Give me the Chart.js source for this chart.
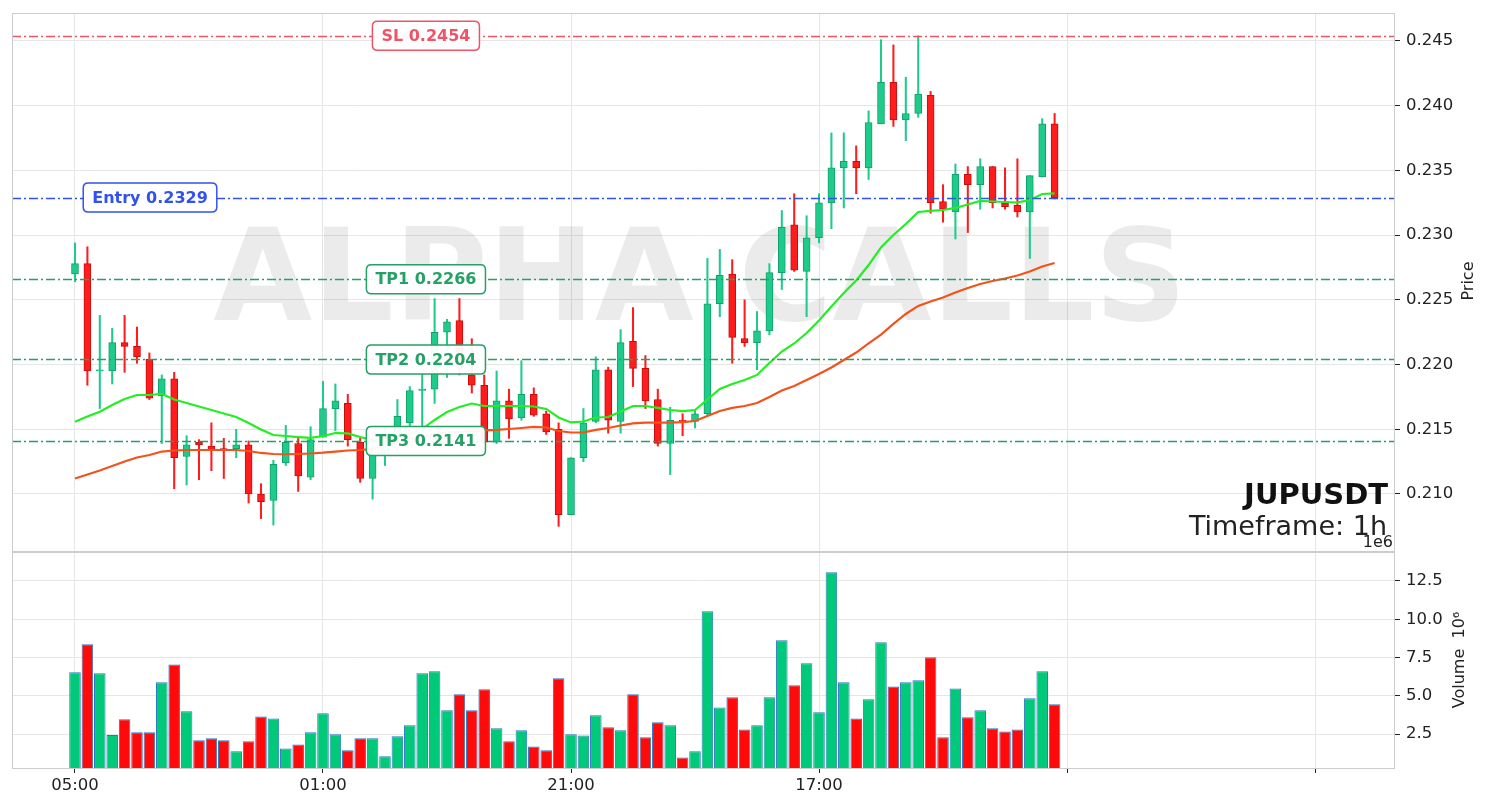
<!DOCTYPE html>
<html>
<head>
<meta charset="utf-8">
<script src="https://cdn.jsdelivr.net/npm/chart.js@4.4.0/dist/chart.umd.min.js"></script>
<style>
  html, body { margin: 0; padding: 0; background: #fff; }
  #wrap { position: relative; width: 1490px; height: 808px; }
  canvas { position: absolute; left: 0; }
  #price { top: 0; }
  #vol { top: 552px; }
</style>
</head>
<body>
<div id="wrap">
  <canvas id="price" width="1490" height="552"></canvas>
  <canvas id="vol" width="1490" height="256"></canvas>
</div>
<script>
// JUPUSDT 1h candles
var opens = [
  0.2270, 0.2278, 0.2195, 0.2195, 0.2217, 0.2214, 0.2204, 0.2176, 0.2189, 0.2129,
  0.2140, 0.2137, 0.2135, 0.2135, 0.2138, 0.2100, 0.2095, 0.2124, 0.2139, 0.2113,
  0.2144, 0.2166, 0.2170, 0.2140, 0.2112, 0.2130, 0.2146, 0.2155, 0.2180, 0.2181,
  0.2225, 0.2234, 0.2192, 0.2184, 0.2140, 0.2172, 0.2159, 0.2177, 0.2162, 0.2150,
  0.2084, 0.2128, 0.2156, 0.2196, 0.2156, 0.2218, 0.2197, 0.2173, 0.2139, 0.2157,
  0.2156, 0.2162, 0.2247, 0.2270, 0.2220, 0.2217, 0.2226, 0.2271, 0.2308, 0.2272,
  0.2298, 0.2325, 0.2352, 0.2357, 0.2352, 0.2386, 0.2418, 0.2389, 0.2394, 0.2408,
  0.2326, 0.2318, 0.2347, 0.2339, 0.2353, 0.2325, 0.2323, 0.2318, 0.2345, 0.2386
];
var highs = [
  0.2294, 0.2291, 0.2238, 0.2228, 0.2238, 0.2229, 0.2209, 0.2192, 0.2194, 0.2145,
  0.2142, 0.2155, 0.2143, 0.2150, 0.2141, 0.2108, 0.2126, 0.2153, 0.2144, 0.2152,
  0.2187, 0.2185, 0.2177, 0.2143, 0.2140, 0.2152, 0.2173, 0.2183, 0.2193, 0.2251,
  0.2235, 0.2251, 0.2220, 0.2192, 0.2195, 0.2181, 0.2203, 0.2182, 0.2164, 0.2155,
  0.2128, 0.2166, 0.2206, 0.2198, 0.2227, 0.2244, 0.2207, 0.2181, 0.2167, 0.2162,
  0.2165, 0.2282, 0.2289, 0.2281, 0.2250, 0.2241, 0.2278, 0.2319, 0.2332, 0.2315,
  0.2332, 0.2379, 0.2379, 0.2369, 0.2396, 0.2451, 0.2447, 0.2422, 0.2454, 0.2411,
  0.2339, 0.2355, 0.2353, 0.2359, 0.2353, 0.2352, 0.2359, 0.2346, 0.2390, 0.2394
];
var lows = [
  0.2264, 0.2184, 0.2166, 0.2185, 0.2194, 0.2201, 0.2173, 0.2139, 0.2104, 0.2107,
  0.2111, 0.2118, 0.2112, 0.2128, 0.2093, 0.2081, 0.2076, 0.2122, 0.2102, 0.2111,
  0.2144, 0.2149, 0.2137, 0.2109, 0.2096, 0.2122, 0.2140, 0.2152, 0.2148, 0.2170,
  0.2190, 0.2192, 0.2178, 0.2139, 0.2139, 0.2143, 0.2157, 0.2160, 0.2146, 0.2075,
  0.2084, 0.2125, 0.2155, 0.2147, 0.2147, 0.2183, 0.2166, 0.2137, 0.2115, 0.2145,
  0.2151, 0.2161, 0.2237, 0.2201, 0.2214, 0.2196, 0.2223, 0.2258, 0.2272, 0.2237,
  0.2294, 0.2305, 0.2321, 0.2332, 0.2343, 0.2386, 0.2384, 0.2373, 0.2391, 0.2317,
  0.2310, 0.2297, 0.2302, 0.2320, 0.2321, 0.2320, 0.2314, 0.2282, 0.2345, 0.2328
];
var closes = [
  0.2278, 0.2195, 0.2196, 0.2217, 0.2214, 0.2206, 0.2174, 0.2189, 0.2128, 0.2138,
  0.2138, 0.2134, 0.2134, 0.2138, 0.2100, 0.2094, 0.2123, 0.2140, 0.2114, 0.2142,
  0.2166, 0.2172, 0.2142, 0.2112, 0.2130, 0.2146, 0.2160, 0.2180, 0.2181, 0.2225,
  0.2233, 0.2197, 0.2184, 0.2140, 0.2172, 0.2158, 0.2177, 0.2161, 0.2148, 0.2084,
  0.2128, 0.2155, 0.2196, 0.2157, 0.2217, 0.2197, 0.2172, 0.2139, 0.2157, 0.2156,
  0.2162, 0.2247, 0.2269, 0.2221, 0.2217, 0.2226, 0.2271, 0.2306, 0.2273, 0.2298,
  0.2325, 0.2352, 0.2357, 0.2352, 0.2387, 0.2418, 0.2389, 0.2394, 0.2409, 0.2325,
  0.2320, 0.2347, 0.2339, 0.2353, 0.2325, 0.2322, 0.2318, 0.2346, 0.2386, 0.2329
];
// volume, in millions
var volumes = [
  6.53, 8.36, 6.47, 2.43, 3.46, 2.61, 2.61, 5.88, 7.05, 3.98,
  2.09, 2.22, 2.09, 1.37, 2.02, 3.65, 3.52, 1.56, 1.82, 2.61,
  3.85, 2.48, 1.43, 2.22, 2.22, 1.04, 2.35, 3.07, 6.47, 6.60,
  4.05, 5.09, 4.05, 5.42, 2.87, 2.02, 2.74, 1.69, 1.43, 6.14,
  2.48, 2.41, 3.72, 2.94, 2.74, 5.09, 2.28, 3.26, 3.07, 0.97,
  1.37, 10.52, 4.24, 4.90, 2.80, 3.07, 4.90, 8.62, 5.68, 7.12,
  3.92, 13.07, 5.88, 3.52, 4.77, 8.49, 5.61, 5.88, 6.01, 7.51,
  2.28, 5.48, 3.59, 4.05, 2.87, 2.67, 2.80, 4.83, 6.60, 4.44
];
// the two moving averages as drawn
var emaFast = [
  0.21559, 0.21599, 0.21636, 0.21688, 0.21734, 0.21765, 0.21765, 0.21773, 0.21730, 0.21703,
  0.21676, 0.21649, 0.21622, 0.21595, 0.21549, 0.21498, 0.21456, 0.21448, 0.21440, 0.21433,
  0.21448, 0.21471, 0.21468, 0.21440, 0.21417, 0.21417, 0.21433, 0.21464, 0.21502, 0.21572,
  0.21634, 0.21672, 0.21699, 0.21680, 0.21680, 0.21680, 0.21680, 0.21676, 0.21657, 0.21591,
  0.21553, 0.21560, 0.21591, 0.21595, 0.21638, 0.21680, 0.21680, 0.21665, 0.21649, 0.21641,
  0.21649, 0.21730, 0.21811, 0.21850, 0.21881, 0.21920, 0.22012, 0.22101, 0.22163, 0.22244,
  0.22341, 0.22449, 0.22553, 0.22650, 0.22769, 0.22905, 0.23001, 0.23086, 0.23179, 0.23187,
  0.23194, 0.23210, 0.23237, 0.23264, 0.23260, 0.23256, 0.23252, 0.23272, 0.23318, 0.23322
];
var emaSlow = [
  0.21120, 0.21151, 0.21182, 0.21216, 0.21251, 0.21282, 0.21301, 0.21328, 0.21336, 0.21340,
  0.21340, 0.21340, 0.21340, 0.21340, 0.21332, 0.21317, 0.21309, 0.21307, 0.21309, 0.21313,
  0.21319, 0.21328, 0.21336, 0.21340, 0.21348, 0.21375, 0.21402, 0.21425, 0.21448, 0.21464,
  0.21475, 0.21483, 0.21487, 0.21491, 0.21495, 0.21502, 0.21510, 0.21518, 0.21514, 0.21487,
  0.21475, 0.21475, 0.21495, 0.21510, 0.21529, 0.21545, 0.21551, 0.21551, 0.21552, 0.21556,
  0.21564, 0.21603, 0.21641, 0.21665, 0.21680, 0.21703, 0.21750, 0.21800, 0.21835, 0.21881,
  0.21927, 0.21978, 0.22035, 0.22093, 0.22163, 0.22232, 0.22314, 0.22391, 0.22453, 0.22487,
  0.22518, 0.22557, 0.22592, 0.22623, 0.22646, 0.22665, 0.22688, 0.22719, 0.22758, 0.22785
];
var levelNames = ['SL', 'Entry', 'TP1', 'TP2', 'TP3'];
var levelValues = [0.2454, 0.2329, 0.2266, 0.2204, 0.2141];
var xTickLabels = ['05:00', '01:00', '21:00', '17:00'];

Chart.defaults.font.family = '"DejaVu Sans", sans-serif';
Chart.defaults.color = '#222';

var FONT = '"DejaVu Sans", sans-serif';
var GRID = '#e6e6e6';
var FRAME = '#cccccc';
var UP = '#1ecb8b', UP_EDGE = '#12a06b';
var DOWN = '#ff1c1c', DOWN_EDGE = '#c40f0f';
var X_MIN = -5.08, X_MAX = 106.45;

var idx = opens.map(function (o, i) { return i; });
var isUp = idx.map(function (i) { return closes[i] >= opens[i]; });

function xAxis(withLabels) {
  return {
    type: 'linear', min: X_MIN, max: X_MAX, offset: false,
    grid: { offset: false, color: GRID, drawTicks: withLabels, tickLength: 5, tickColor: '#222' },
    border: { display: false },
    ticks: {
      display: withLabels, stepSize: 20, includeBounds: false, autoSkip: false,
      maxRotation: 0, padding: 3, font: { size: 16.5 },
      callback: function (v) { return xTickLabels[v / 20] || ''; }
    },
    afterFit: function (s) {
      s.height = withLabels ? 40 : 0;
      s.paddingLeft = 0; s.paddingRight = 0;
    }
  };
}

function yAxis(lo, hi, step, digits) {
  return {
    position: 'right', min: lo, max: hi,
    grid: { color: GRID, tickLength: 5, tickColor: '#222' },
    border: { display: false },
    ticks: {
      stepSize: step, includeBounds: false, padding: 6, font: { size: 16.5 },
      callback: function (v) { return v.toFixed(digits); }
    },
    afterFit: function (s) {
      s.width = 95;
      s.paddingTop = 0; s.paddingBottom = 0;
    }
  };
}

function frame(chart) {
  var a = chart.chartArea, ctx = chart.ctx;
  ctx.save();
  ctx.strokeStyle = FRAME;
  ctx.lineWidth = 1;
  ctx.strokeRect(a.left + 0.5, a.top + 0.5, a.right - a.left - 1, a.bottom - a.top);
  ctx.restore();
}

function rotatedText(ctx, txt, x, y, font) {
  ctx.save();
  ctx.translate(x, y);
  ctx.rotate(-Math.PI / 2);
  ctx.font = font;
  ctx.fillStyle = '#222';
  ctx.textAlign = 'center';
  ctx.textBaseline = 'middle';
  ctx.fillText(txt, 0, 0);
  ctx.restore();
}

var levelStyle = {
  SL: { color: '#ef5466', at: 28.3 },
  Entry: { color: '#3252ee', at: 6.05 },
  TP1: { color: '#27a067', at: 28.3 },
  TP2: { color: '#27a067', at: 28.3 },
  TP3: { color: '#27a067', at: 28.3 }
};

var priceDeco = {
  id: 'priceDeco',
  beforeDatasetsDraw: function (chart) {
    var ctx = chart.ctx;
    ctx.save();
    ctx.font = 'bold 128px ' + FONT;
    ctx.fillStyle = 'rgba(0,0,0,0.08)';
    ctx.textAlign = 'center';
    ctx.textBaseline = 'alphabetic';
    ctx.fillText('ALPHA CALLS', 700, 320);
    ctx.restore();
  },
  afterDatasetsDraw: function (chart) {
    var ctx = chart.ctx, a = chart.chartArea;
    var xs = chart.scales.x, ys = chart.scales.y;
    ctx.save();
    levelNames.forEach(function (name, k) {
      var st = levelStyle[name];
      var y = Math.round(ys.getPixelForValue(levelValues[k])) + 0.5;
      ctx.strokeStyle = st.color;
      ctx.lineWidth = 1.5;
      ctx.setLineDash([9, 3, 2, 3]);
      ctx.beginPath();
      ctx.moveTo(a.left, y);
      ctx.lineTo(a.right, y);
      ctx.stroke();
    });
    ctx.setLineDash([]);
    ctx.font = 'bold 16px ' + FONT;
    ctx.textAlign = 'center';
    ctx.textBaseline = 'middle';
    levelNames.forEach(function (name, k) {
      var st = levelStyle[name];
      var txt = name + ' ' + levelValues[k].toFixed(4);
      var cx = xs.getPixelForValue(st.at);
      var cy = ys.getPixelForValue(levelValues[k]);
      var w = ctx.measureText(txt).width + 18, h = 29, r = 5;
      var x0 = cx - w / 2, y0 = cy - h / 2;
      ctx.beginPath();
      ctx.moveTo(x0 + r, y0);
      ctx.lineTo(x0 + w - r, y0);
      ctx.quadraticCurveTo(x0 + w, y0, x0 + w, y0 + r);
      ctx.lineTo(x0 + w, y0 + h - r);
      ctx.quadraticCurveTo(x0 + w, y0 + h, x0 + w - r, y0 + h);
      ctx.lineTo(x0 + r, y0 + h);
      ctx.quadraticCurveTo(x0, y0 + h, x0, y0 + h - r);
      ctx.lineTo(x0, y0 + r);
      ctx.quadraticCurveTo(x0, y0, x0 + r, y0);
      ctx.closePath();
      ctx.fillStyle = 'rgba(255,255,255,0.95)';
      ctx.fill();
      ctx.lineWidth = 1.5;
      ctx.strokeStyle = st.color;
      ctx.stroke();
      ctx.fillStyle = st.color;
      ctx.fillText(txt, cx, cy + 1);
    });
    ctx.restore();
  },
  afterDraw: function (chart) {
    var ctx = chart.ctx;
    frame(chart);
    ctx.save();
    ctx.fillStyle = '#111';
    ctx.textAlign = 'right';
    ctx.textBaseline = 'alphabetic';
    ctx.font = 'bold 29px ' + FONT;
    ctx.fillText('JUPUSDT', 1388, 504);
    ctx.fillStyle = '#222';
    ctx.font = '27px ' + FONT;
    ctx.fillText('Timeframe: 1h', 1387, 535);
    ctx.font = '16px ' + FONT;
    ctx.fillText('1e6', 1393, 547);
    ctx.restore();
    rotatedText(ctx, 'Price', 1469, 281, '16px ' + FONT);
  }
};

var volDeco = {
  id: 'volDeco',
  afterDraw: function (chart) {
    frame(chart);
    rotatedText(chart.ctx, 'Volume  10\u2076', 1460, 108, '16px ' + FONT);
  }
};

new Chart(document.getElementById('price'), {
  type: 'bar',
  data: {
    datasets: [
      {
        type: 'line', label: 'EMA fast', order: 0,
        data: idx.map(function (i) { return { x: i, y: emaFast[i] }; }),
        borderColor: '#22ee22', borderWidth: 2.2, pointRadius: 0, tension: 0
      },
      {
        type: 'line', label: 'EMA slow', order: 1,
        data: idx.map(function (i) { return { x: i, y: emaSlow[i] }; }),
        borderColor: '#f2531a', borderWidth: 2.2, pointRadius: 0, tension: 0
      },
      {
        label: 'body', order: 2, grouped: false, barThickness: 7,
        data: idx.map(function (i) { return { x: i, y: [opens[i], closes[i]] }; }),
        backgroundColor: isUp.map(function (u) { return u ? UP : DOWN; }),
        borderColor: isUp.map(function (u) { return u ? UP_EDGE : DOWN_EDGE; }),
        borderWidth: 1, borderSkipped: false
      },
      {
        label: 'wick', order: 3, grouped: false, barThickness: 1.4,
        data: idx.map(function (i) { return { x: i, y: [lows[i], highs[i]] }; }),
        backgroundColor: isUp.map(function (u) { return u ? UP : DOWN; }),
        borderWidth: 0
      }
    ]
  },
  options: {
    responsive: false, animation: false, devicePixelRatio: 1,
    layout: { padding: { left: 12, right: 0, top: 13, bottom: 1 } },
    plugins: { legend: { display: false }, tooltip: { enabled: false } },
    scales: {
      x: xAxis(false),
      y: yAxis(0.205596, 0.247163, 0.005, 3)
    }
  },
  plugins: [priceDeco]
});

new Chart(document.getElementById('vol'), {
  type: 'bar',
  data: {
    datasets: [{
      label: 'Volume', grouped: false,
      data: idx.map(function (i) { return { x: i, y: volumes[i] }; }),
      backgroundColor: isUp.map(function (u) { return u ? '#00c97a' : '#ff0a0a'; }),
      borderColor: '#2a78c0', borderWidth: 1,
      categoryPercentage: 1, barPercentage: 0.93
    }]
  },
  options: {
    responsive: false, animation: false, devicePixelRatio: 1,
    layout: { padding: { left: 12, right: 0, top: 0, bottom: 0 } },
    plugins: { legend: { display: false }, tooltip: { enabled: false } },
    scales: {
      x: xAxis(true),
      y: yAxis(0.278, 14.395, 2.5, 1)
    }
  },
  plugins: [volDeco]
});
</script>
</body>
</html>
